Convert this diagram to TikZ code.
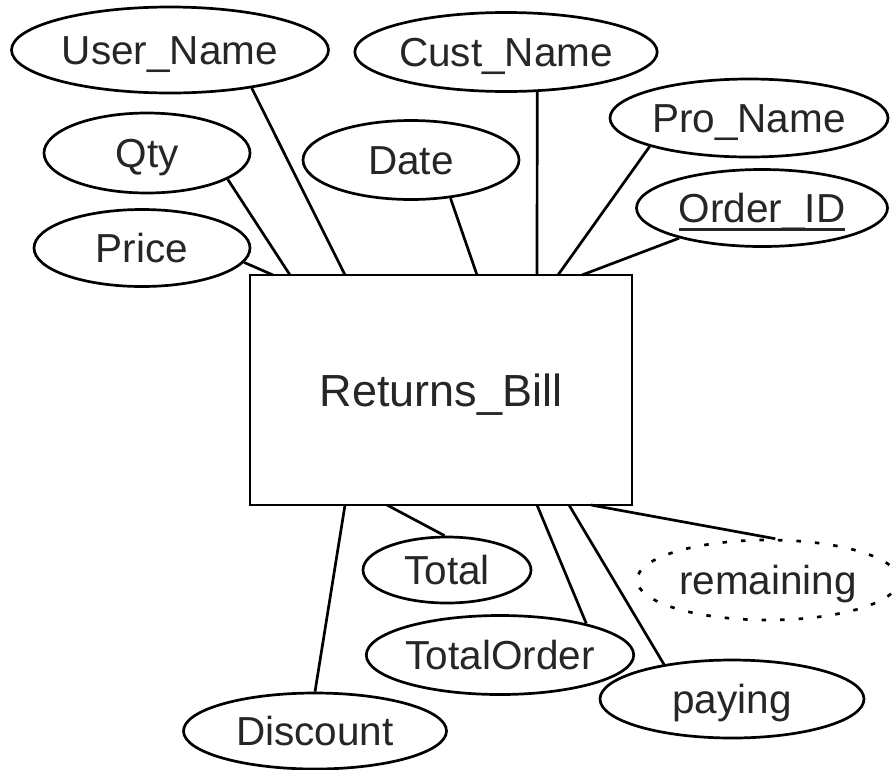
\documentclass[tikz,border=0pt]{standalone}
\usepackage{fontspec}
\setmainfont{Liberation Sans}
\usetikzlibrary{shapes.geometric}
\begin{document}
\begin{tikzpicture}[x=1pt,y=-1pt,
  attr/.style={ellipse, draw, line width=2.7pt, inner sep=0pt, text=black!85,
    font=\fontsize{40.5}{40}\selectfont, text height=29pt, text depth=0pt},
  derived/.style={attr, dash pattern=on 4.5pt off 14pt},
  entitybox/.style={rectangle, draw, line width=2.7pt, inner sep=0pt, text=black!85,
    minimum width=382pt, minimum height=230pt, font=\fontsize{45}{45}\selectfont,
    text height=32pt, text depth=0pt},
  link/.style={line width=2.7pt}]
\clip (0,0) rectangle (893,769);
\fill[white] (0,0) rectangle (893,769);
% entity
\node[entitybox] (bill) at (441,390) {Returns\_Bill};
% attributes (top)
\node[attr, minimum width=317pt, minimum height=86pt] (user)  at (170,50)  {User\_Name};
\node[attr, minimum width=290pt, minimum height=79pt] (cust)  at (506,52)  {Cust\_Name};
\node[attr, minimum width=206pt, minimum height=80pt] (qty)   at (147,153) {Qty};
\node[attr, minimum width=216pt, minimum height=79pt] (date)  at (411,160) {Date};
\node[attr, minimum width=216pt, minimum height=77pt] (price) at (142,248) {Price};
\node[attr, minimum width=278pt, minimum height=78pt] (pro)   at (749,118) {Pro\_Name};
\node[attr, minimum width=251pt, minimum height=77pt] (oid)   at (762,208)
  {\vtop{\hbox{Order\_ID}\kern-2.7pt\hrule height 2.7pt}};
% attributes (bottom)
\node[attr, minimum width=168pt, minimum height=66pt] (total) at (447,570) {Total};
\node[attr, minimum width=264pt, minimum height=79pt] (torder) at (500,655) {TotalOrder};
\node[attr, minimum width=264pt, minimum height=78pt] (pay)   at (732,699) {paying};
\node[attr, minimum width=263pt, minimum height=76pt] (disc)  at (315,731) {Discount};
\node[derived, minimum width=262pt, minimum height=80pt] (rem) at (768,580) {remaining};
% attachment points on the entity border
\coordinate (tprice) at (273,275);
\coordinate (tqty)   at (290,275);
\coordinate (tuser)  at (345,275);
\coordinate (tdate)  at (477,275);
\coordinate (tcust)  at (537,275);
\coordinate (tpro)   at (558,275);
\coordinate (toid)   at (582,275);
\coordinate (bdisc)  at (345,505);
\coordinate (btotal) at (387,505);
\coordinate (btord)  at (537,505);
\coordinate (bpay)   at (569,505);
\coordinate (brem)   at (591,505);
% connectors
\draw[link] (user.-25)   -- (tuser);
\draw[link] (qty.-18)    -- (tqty);
\draw[link] (price.-8)   -- (tprice);
\draw[link] (date.-44)   -- (tdate);
\draw[link] (cust.-52)   -- (tcust);
\draw[link] (pro.-164)   -- (tpro);
\draw[link] (oid.-160)   -- (toid);
\draw[link] (disc.90)    -- (bdisc);
\draw[link] (total.94)   -- (btotal);
\draw[link] (torder.20)  -- (btord);
\draw[link] (pay.153)    -- (bpay);
\draw[link] (rem.80)     -- (brem);
\end{tikzpicture}
\end{document}
